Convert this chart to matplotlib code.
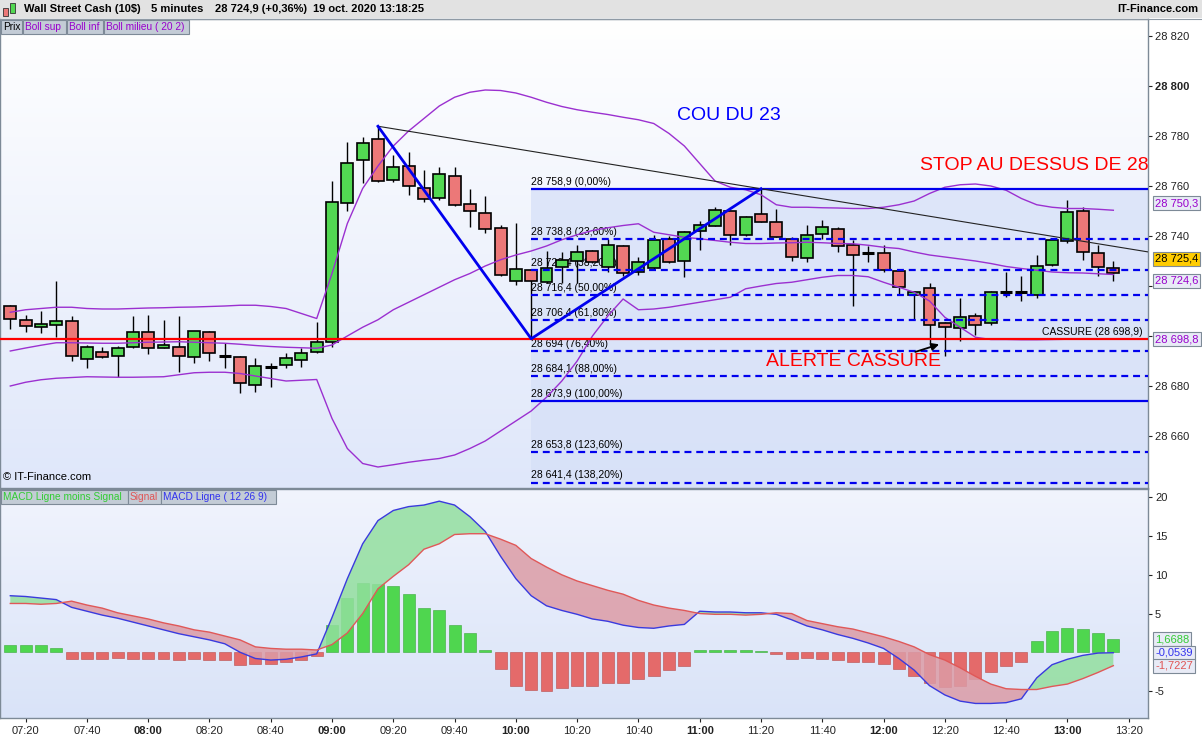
import numpy as np
import matplotlib
matplotlib.use("Agg")
import matplotlib.pyplot as plt
from matplotlib.colors import LinearSegmentedColormap
from matplotlib.patches import Rectangle

plt.rcParams['font.family'] = ['Liberation Sans', 'DejaVu Sans']
plt.rcParams['lines.scale_dashes'] = False

# ---------------- data ----------------
first_bar = "07:15"
bar_minutes = 5

opens = [28711.9, 28706.3, 28703.5, 28704.3, 28705.9, 28690.9, 28693.7, 28691.9, 28695.5, 28701.5,
         28695.1, 28695.5, 28691.5, 28701.5, 28692.1, 28691.5, 28680.4, 28687.7, 28688.3, 28690.3,
         28693.5, 28697.5, 28753.1, 28770.3, 28778.7, 28762.3, 28768.1, 28759.1, 28755.1, 28763.9,
         28752.7, 28749.1, 28743.1, 28722.0, 28726.3, 28721.5, 28727.7, 28730.1, 28734.1, 28727.7,
         28736.1, 28725.7, 28727.1, 28738.9, 28730.1, 28741.9, 28744.1, 28750.1, 28740.5, 28748.9,
         28745.7, 28738.9, 28731.3, 28740.9, 28742.9, 28736.5, 28733.4, 28733.3, 28726.1, 28716.5,
         28719.3, 28705.3, 28703.3, 28708.1, 28705.3, 28717.7, 28717.7, 28716.5, 28728.5, 28738.1,
         28750.1, 28733.3, 28727.3]
highs = [28712.3, 28708.4, 28710.0, 28722.0, 28708.0, 28696.4, 28695.5, 28696.0, 28708.0, 28708.4,
         28706.4, 28708.0, 28701.9, 28701.9, 28697.1, 28692.0, 28691.1, 28689.3, 28693.1, 28695.1,
         28705.5, 28762.0, 28777.6, 28779.6, 28783.9, 28772.3, 28773.6, 28766.4, 28767.5, 28767.5,
         28758.8, 28756.0, 28744.4, 28745.1, 28726.7, 28734.0, 28733.5, 28736.5, 28734.6, 28738.9,
         28736.3, 28731.8, 28740.5, 28740.2, 28741.9, 28746.2, 28751.5, 28750.3, 28748.1, 28758.9,
         28750.9, 28739.5, 28744.5, 28746.3, 28743.5, 28738.5, 28736.1, 28736.5, 28726.3, 28717.9,
         28721.1, 28705.5, 28715.3, 28709.3, 28717.9, 28725.8, 28724.2, 28732.5, 28738.7, 28754.5,
         28751.7, 28736.5, 28730.1]
lows = [28702.7, 28701.7, 28701.3, 28699.7, 28690.1, 28687.1, 28691.1, 28683.5, 28695.1, 28692.9,
        28695.1, 28685.7, 28689.3, 28690.1, 28687.1, 28677.1, 28677.7, 28679.7, 28687.1, 28687.7,
        28693.3, 28695.5, 28750.1, 28761.1, 28761.7, 28761.7, 28756.5, 28753.7, 28754.4, 28752.2,
        28743.7, 28741.1, 28724.1, 28720.3, 28698.9, 28721.3, 28721.3, 28721.3, 28729.4, 28725.5,
        28724.0, 28724.5, 28726.9, 28729.3, 28723.5, 28734.6, 28744.0, 28736.5, 28739.9, 28745.5,
        28739.5, 28730.1, 28729.7, 28738.9, 28733.7, 28712.1, 28729.5, 28725.7, 28716.5, 28706.5,
        28697.3, 28692.1, 28698.1, 28700.5, 28704.5, 28715.7, 28714.2, 28715.3, 28728.1, 28737.3,
        28730.5, 28724.1, 28722.1]
closes = [28706.7, 28703.9, 28704.7, 28705.9, 28691.9, 28695.5, 28691.5, 28695.1, 28701.5, 28695.1,
          28696.3, 28691.9, 28701.9, 28693.1, 28692.1, 28681.1, 28687.9, 28687.7, 28691.1, 28693.1,
          28697.7, 28753.7, 28769.3, 28777.1, 28761.9, 28767.5, 28759.9, 28754.7, 28764.7, 28752.4,
          28749.9, 28742.8, 28724.3, 28726.7, 28721.9, 28727.3, 28730.5, 28733.7, 28729.5, 28736.5,
          28725.3, 28729.7, 28738.6, 28729.5, 28741.7, 28744.5, 28750.5, 28740.5, 28747.7, 28745.7,
          28739.7, 28731.7, 28740.5, 28743.7, 28736.1, 28732.5, 28733.4, 28726.5, 28719.7, 28717.7,
          28704.5, 28703.7, 28707.7, 28704.5, 28717.5, 28717.7, 28717.7, 28728.1, 28738.5, 28749.7,
          28733.7, 28727.7, 28725.4]

boll_sup = [28709.5, 28710.5, 28711.0, 28711.5, 28711.5, 28711.0, 28710.8, 28710.8, 28711.0, 28711.2,
            28711.3, 28711.5, 28711.6, 28711.8, 28712.0, 28712.3, 28712.3, 28711.8, 28711.0, 28709.0,
            28707.0, 28725.0, 28745.0, 28759.0, 28768.0, 28776.0, 28782.0, 28787.0, 28792.0, 28795.5,
            28797.5, 28798.4, 28798.2, 28797.2, 28795.5, 28793.5, 28791.8, 28790.5, 28789.5, 28788.6,
            28787.5, 28786.5, 28785.0, 28781.0, 28776.0, 28769.0, 28762.0, 28759.5, 28758.5, 28756.5,
            28752.5, 28751.5, 28751.5, 28751.3, 28751.2, 28751.0, 28751.0, 28751.5, 28752.5, 28754.0,
            28757.0, 28759.5, 28760.5, 28760.8, 28760.0, 28758.3, 28755.0, 28752.5, 28751.5, 28751.0,
            28751.0, 28750.7, 28750.3]
boll_inf = [28680.0, 28681.5, 28682.5, 28683.1, 28683.4, 28683.7, 28683.6, 28683.5, 28683.5, 28683.6,
            28683.7, 28684.5, 28685.3, 28685.5, 28685.5, 28685.0, 28684.0, 28683.0, 28682.0, 28682.3,
            28682.6, 28667.0, 28655.0, 28649.0, 28647.6, 28648.5, 28649.5, 28650.3, 28651.0, 28652.4,
            28655.0, 28658.0, 28662.0, 28666.0, 28670.0, 28675.5, 28682.0, 28690.0, 28700.0, 28708.0,
            28714.8, 28710.5, 28710.8, 28711.5, 28712.5, 28713.5, 28714.5, 28715.5, 28718.9, 28720.0,
            28721.0, 28721.5, 28722.5, 28723.5, 28724.2, 28724.2, 28723.7, 28721.5, 28719.5, 28717.5,
            28714.0, 28707.5, 28703.5, 28699.5, 28698.6, 28698.6, 28698.5, 28698.5, 28698.6, 28698.7,
            28698.8, 28698.8, 28698.8]
boll_mid = [28694.0, 28695.2, 28696.3, 28697.3, 28697.3, 28697.2, 28697.1, 28697.1, 28697.3, 28697.5,
            28697.6, 28697.7, 28697.5, 28697.3, 28697.1, 28696.7, 28696.2, 28695.8, 28695.5, 28695.3,
            28695.1, 28696.4, 28700.0, 28703.5, 28706.5, 28710.5, 28713.5, 28716.5, 28719.5, 28722.5,
            28725.0, 28728.0, 28730.5, 28732.4, 28734.0, 28736.0, 28738.5, 28740.5, 28742.2, 28743.3,
            28744.2, 28744.9, 28741.5, 28740.5, 28739.5, 28738.9, 28738.2, 28737.5, 28737.0, 28737.0,
            28737.2, 28737.3, 28737.5, 28737.3, 28737.0, 28736.9, 28736.3, 28735.5, 28735.0, 28733.6,
            28732.4, 28731.6, 28730.8, 28730.0, 28729.0, 28727.8, 28727.0, 28726.3, 28725.6, 28725.3,
            28725.2, 28724.9, 28724.6]

macd_line = [7.3, 7.2, 7.0, 6.8, 5.8, 5.3, 4.8, 4.4, 3.9, 3.4,
             2.9, 2.4, 2.0, 1.6, 1.1, 0.0, -0.8, -1.0, -0.9, -0.6,
             -0.2, 4.5, 9.5, 14.0, 17.0, 18.3, 18.8, 19.0, 19.5, 19.0,
             17.5, 15.6, 12.4, 9.5, 7.3, 6.0, 5.4, 4.9, 4.3, 4.0,
             3.5, 3.2, 3.1, 3.4, 3.6, 5.3, 5.2, 5.2, 5.1, 5.1,
             4.9, 4.2, 3.4, 2.9, 2.3, 1.8, 1.2, 0.5, -0.8, -2.3,
             -4.3, -5.5, -6.3, -6.6, -6.6, -6.5, -6.0, -3.3, -1.6, -0.9,
             -0.4, -0.1, -0.0539]
signal_line = [6.3, 6.3, 6.2, 6.3, 6.6, 6.1, 5.7, 5.1, 4.7, 4.3,
               3.8, 3.4, 2.9, 2.6, 2.1, 1.6, 0.7, 0.5, 0.4, 0.4,
               0.3, 1.0, 2.5, 5.0, 8.2, 9.8, 11.3, 13.3, 14.0, 15.2,
               15.3, 15.3, 14.6, 13.8, 12.1, 11.0, 10.0, 9.2, 8.6, 8.0,
               7.5, 6.7, 6.1, 5.7, 5.4, 5.0, 4.9, 4.9, 4.8, 4.9,
               5.1, 5.0, 4.1, 3.7, 3.3, 3.0, 2.5, 2.0, 1.4, 0.7,
               -0.3, -1.0, -2.0, -3.1, -4.1, -4.7, -4.8, -4.8, -4.4, -4.1,
               -3.4, -2.6, -1.7227]
macd_hist = [1.0, 1.0, 1.0, 0.6, -0.8, -0.8, -0.9, -0.7, -0.8, -0.9,
             -0.9, -1.0, -0.9, -1.0, -1.0, -1.6, -1.5, -1.5, -1.3, -1.0,
             -0.5, 3.5, 7.0, 9.0, 8.8, 8.5, 7.5, 5.7, 5.5, 3.5,
             2.5, 0.3, -2.2, -4.3, -4.8, -5.0, -4.6, -4.3, -4.3, -4.0,
             -4.0, -3.5, -3.0, -2.3, -1.8, 0.3, 0.3, 0.3, 0.3, 0.2,
             -0.2, -0.8, -0.7, -0.8, -1.0, -1.2, -1.3, -1.5, -2.2, -3.0,
             -4.0, -4.5, -4.3, -3.5, -2.5, -1.8, -1.2, 1.5, 2.8, 3.2,
             3.0, 2.5, 1.6688]

time_ticks = ["07:20", "07:40", "08:00", "08:20", "08:40", "09:00", "09:20", "09:40", "10:00",
              "10:20", "10:40", "11:00", "11:20", "11:40", "12:00", "12:20", "12:40", "13:00", "13:20"]
price_ticks = [28660, 28680, 28700, 28720, 28740, 28760, 28780, 28800, 28820]
price_ticks_hidden = [28700, 28720]
macd_ticks = [-5, 5, 10, 15, 20]

swing_bar = [24, 34, 49]
swing_price = [28783.9, 28698.9, 28758.9]
trend_bar = [24, 74.3]
trend_price = [28783.9, 28733.6]
fib_pct = [0.0, 23.6, 38.2, 50.0, 61.8, 76.4, 88.0, 100.0, 123.6, 138.2]
fib_price = [28758.9, 28738.8, 28726.4, 28716.4, 28706.4, 28694.0, 28684.1, 28673.9, 28653.8, 28641.4]
break_level = 28698.9

last_price = 28725.4
boll_last = {"sup": 28750.3, "mid": 28724.6, "inf": 28698.8}
macd_last = {"hist": 1.6688, "macd": -0.0539, "signal": -1.7227}

# ---------------- helpers ----------------
W, H, DPI = 1202, 740, 100
fig = plt.figure(figsize=(W / DPI, H / DPI), dpi=DPI)
fig.patch.set_facecolor("white")


def frect(x0, y0, x1, y1):
    return [x0 / W, 1 - y1 / H, (x1 - x0) / W, (y1 - y0) / H]


def fbox(x0, y0, x1, y1, fc, ec="#7d8a97", lw=0.8, z=20):
    fig.add_artist(Rectangle((x0 / W, 1 - y1 / H), (x1 - x0) / W, (y1 - y0) / H,
                             transform=fig.transFigure, fc=fc, ec=ec, lw=lw, zorder=z))


def ftext(x, y, s, **kw):
    kw.setdefault("zorder", 21)
    fig.text(x / W, 1 - y / H, s, **kw)


def fr_num(v, dec=1):
    return f"{v:,.{dec}f}".replace(",", " ").replace(".", ",")


def bar_index(hhmm):
    h, m = map(int, hhmm.split(":"))
    h0, m0 = map(int, first_bar.split(":"))
    return ((h * 60 + m) - (h0 * 60 + m0)) / bar_minutes


def vgrad(a, top, bottom, xl, yl):
    cmap = LinearSegmentedColormap.from_list("bg", [bottom, top])
    a.imshow(np.linspace(0, 1, 256)[:, None], cmap=cmap, origin="lower", aspect="auto",
             extent=(xl[0], xl[1], yl[0], yl[1]), zorder=0, interpolation="bilinear")


PX0, STEP, RIGHT = 10.3, 15.32, 1148
xlim = (-PX0 / STEP, (RIGHT - PX0) / STEP)
ylim_p = (28760 - (488 - 186) / 2.5, 28760 + (186 - 19) / 2.5)
ylim_m = (-(718 - 652.3) / 7.75, (652.3 - 489) / 7.75)

ax = fig.add_axes(frect(0, 19, RIGHT, 488))
axm = fig.add_axes(frect(0, 489, RIGHT, 718))

o, h, l, c = (np.array(v) for v in (opens, highs, lows, closes))
idx = np.arange(len(o))

# ---------------- price panel ----------------
vgrad(ax, "#ffffff", "#dfe7fa", xlim, ylim_p)
fib_x0 = swing_bar[1]
ax.add_patch(Rectangle((fib_x0, ylim_p[0]), xlim[1] - fib_x0, fib_price[0] - ylim_p[0],
                       fc="#d6e0f8", ec="none", alpha=0.75, zorder=1))

ax.vlines(idx, l, h, color="black", lw=1.0, zorder=4)
doji = c == o
rise = c > o
fall = c < o
ax.bar(idx[rise], (c - o)[rise], bottom=o[rise], width=0.78, color="#52d852",
       edgecolor="black", linewidth=1.2, zorder=5)
ax.bar(idx[fall], (o - c)[fall], bottom=c[fall], width=0.78, color="#ec7878",
       edgecolor="black", linewidth=1.2, zorder=5)
ax.hlines(c[doji], idx[doji] - 0.39, idx[doji] + 0.39, color="black", lw=2.2, zorder=5)

boll_col = "#9b30d0"
for band in (boll_sup, boll_inf, boll_mid):
    ax.plot(idx, band, color=boll_col, lw=1.0, zorder=6)

# Fibonacci projection levels
for pct, lvl in zip(fib_pct, fib_price):
    solid = pct in (0.0, 100.0)
    ax.plot([fib_x0, xlim[1]], [lvl, lvl], color="#0000ee", lw=1.6,
            ls="-" if solid else (0, (5, 3.5)), zorder=6, solid_capstyle="butt")
    val = fr_num(lvl, 1)
    if val.endswith(",0"):
        val = val[:-2]
    ax.annotate(f"{val} ({fr_num(pct, 2)}%)", xy=(fib_x0, lvl), xytext=(0, 2),
                textcoords="offset pixels", fontsize=7.5, ha="left", va="bottom",
                color="black", zorder=3)

# break level
ax.axhline(break_level, color="#ff0000", lw=1.6, zorder=6)
ax.annotate(f"CASSURE ({fr_num(break_level)})", xy=(1, break_level),
            xycoords=ax.get_yaxis_transform(), xytext=(-5, 2), textcoords="offset pixels",
            fontsize=7.5, ha="right", va="bottom", color="black", zorder=7)

# swing lines
ax.plot(trend_bar, trend_price, color="#222222", lw=0.8, zorder=6)
ax.plot(swing_bar, swing_price, color="#0000ee", lw=2.0, zorder=7)

# annotations
ax.text(46.9, 28788.4, "COU DU 23", color="#0000ff", fontsize=14, ha="center", va="center", zorder=8)
ax.text(59.4, 28768.4, "STOP AU DESSUS DE 28", color="#ff0000", fontsize=14, ha="left",
        va="center", zorder=8, clip_on=True)
ax.text(49.3, 28690.0, "ALERTE CASSURE", color="#ff0000", fontsize=14, ha="left", va="center", zorder=8)
ax.annotate("", xy=(60.8, 28697.0), xytext=(58.9, 28693.3),
            arrowprops=dict(arrowstyle="-|>", color="black", lw=1.3, mutation_scale=11), zorder=8)
ax.text(0.003, 0.012, "© IT-Finance.com", transform=ax.transAxes, fontsize=8, ha="left",
        va="bottom", zorder=8)

ax.set_xlim(xlim)
ax.set_ylim(ylim_p)
ax.set_xticks([])
ax.yaxis.tick_right()
ax.set_yticks(price_ticks)
ax.set_yticklabels(["" if t in price_ticks_hidden else fr_num(t, 0) for t in price_ticks])
ax.tick_params(axis="y", length=3, width=0.8, labelsize=8, pad=2, colors="#222222")
for lbl in ax.get_yticklabels():
    if lbl.get_text() == "28 800":
        lbl.set_fontweight("bold")

spine_col = "#7d8a97"
for a in (ax, axm):
    for s in a.spines.values():
        s.set_color(spine_col)
        s.set_linewidth(1.0)


def side_label(a, value, text, fc, tc, dy=0):
    a.annotate(text, xy=(1, value), xycoords=a.get_yaxis_transform(), xytext=(7, dy),
               textcoords="offset pixels", ha="left", va="center", fontsize=8, color=tc,
               bbox=dict(boxstyle="square,pad=0.18", fc=fc, ec=spine_col, lw=0.8),
               annotation_clip=False, zorder=30)


side_label(ax, boll_last["sup"], fr_num(boll_last["sup"]), "#e8ebf6", "#9900cc", dy=7)
side_label(ax, last_price, fr_num(last_price), "#ffcc00", "black", dy=14)
side_label(ax, boll_last["mid"], fr_num(boll_last["mid"]), "#e8ebf6", "#9900cc", dy=-6)
side_label(ax, boll_last["inf"], fr_num(boll_last["inf"]), "#e8ebf6", "#9900cc", dy=0)

# ---------------- MACD panel ----------------
vgrad(axm, "#f1f4fd", "#d9e3f8", xlim, ylim_m)
hist = np.array(macd_hist)
m = np.array(macd_line)
s = np.array(signal_line)
pos = hist >= 0
axm.bar(idx[pos], hist[pos], width=0.78, color="#4fd64f", edgecolor="#3aa93a", lw=0.4, zorder=3)
axm.bar(idx[~pos], hist[~pos], width=0.78, color="#e46a6a", edgecolor="#b84c4c", lw=0.4, zorder=3)
axm.fill_between(idx, m, s, where=m >= s, interpolate=True, color="#93df9f", alpha=0.85, lw=0, zorder=4)
axm.fill_between(idx, m, s, where=m < s, interpolate=True, color="#dc9ca6", alpha=0.85, lw=0, zorder=4)
axm.plot(idx, m, color="#3a3ade", lw=1.0, zorder=5)
axm.plot(idx, s, color="#e05858", lw=1.0, zorder=5)

axm.set_xlim(xlim)
axm.set_ylim(ylim_m)
axm.yaxis.tick_right()
axm.set_yticks(macd_ticks)
axm.set_yticklabels([str(t) for t in macd_ticks])
axm.tick_params(axis="y", length=3, width=0.8, labelsize=8, pad=2, colors="#222222")
axm.set_xticks([bar_index(t) for t in time_ticks])
axm.set_xticklabels(time_ticks)
axm.tick_params(axis="x", length=3, width=0.8, labelsize=8, pad=3, colors="#222222")
for lbl in axm.get_xticklabels():
    if lbl.get_text().endswith(":00"):
        lbl.set_fontweight("bold")

side_label(axm, macd_last["hist"], fr_num(macd_last["hist"], 4), "#e8ebf6", "#33cc33")
side_label(axm, macd_last["macd"], fr_num(macd_last["macd"], 4), "#e8ebf6", "#3333ee")
side_label(axm, macd_last["signal"], fr_num(macd_last["signal"], 4), "#e8ebf6", "#e05555")

# ---------------- header and legend tabs ----------------
fbox(0, 0, W, 18, "#e2e2e2", ec="none", z=15)
fig.add_artist(plt.Line2D([0, 1], [1 - 18.5 / H, 1 - 18.5 / H], transform=fig.transFigure,
                          color="#8f9aa5", lw=0.8, zorder=16))
# small candle icon
fbox(3, 8, 8, 16, "#ec7878", ec="#333333", lw=0.6, z=17)
fbox(10, 3, 15, 13, "#52d852", ec="#333333", lw=0.6, z=17)
ftext(24, 9.5, "Wall Street Cash (10\\$)", fontsize=8, fontweight="bold", va="center")
ftext(151, 9.5, "5 minutes", fontsize=8, fontweight="bold", va="center")
ftext(215, 9.5, "28 724,9 (+0,36%)", fontsize=8, fontweight="bold", va="center")
ftext(313, 9.5, "19 oct. 2020 13:18:25", fontsize=8, fontweight="bold", va="center")
ftext(1198, 9.5, "IT-Finance.com", fontsize=8, fontweight="bold", va="center", ha="right")

tab_fc = "#c3ccd6"
for x0, x1, label, col in [(1, 22, "Prix", "black"), (23, 66, "Boll sup", "#9900cc"),
                           (67, 103, "Boll inf", "#9900cc"), (104, 189, "Boll milieu ( 20 2)", "#9900cc")]:
    fbox(x0, 20, x1, 34, tab_fc)
    ftext(x0 + 2, 27.5, label, fontsize=7.3, color=col, va="center")

for x0, x1, label, col in [(1, 128, "MACD Ligne moins Signal", "#33cc33"), (128, 161, "Signal", "#e05555"),
                           (161, 276, "MACD Ligne ( 12 26 9)", "#3333ee")]:
    fbox(x0, 490, x1, 504, tab_fc)
    ftext(x0 + 2, 497.5, label, fontsize=7.3, color=col, va="center")

fig.savefig("out.png", dpi=DPI, facecolor=fig.get_facecolor())
